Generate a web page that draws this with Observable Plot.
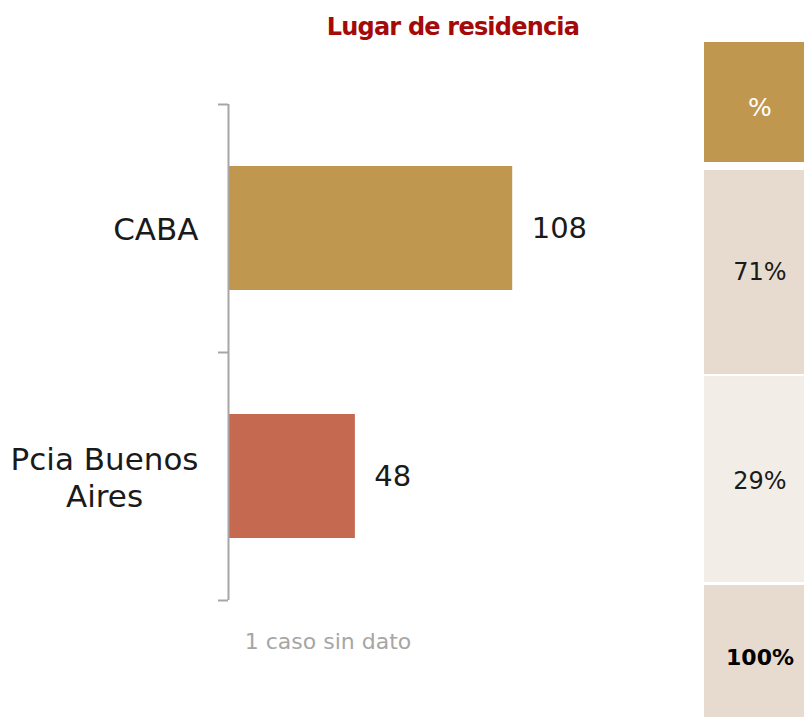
<!DOCTYPE html>
<html>
<head>
<meta charset="utf-8">
<script src="https://cdn.jsdelivr.net/npm/d3@7"></script>
<script src="https://cdn.jsdelivr.net/npm/@observablehq/plot@0.6"></script>
<style>
  html, body { margin: 0; padding: 0; background: #ffffff; }
  #wrap { position: relative; width: 804px; height: 717px; overflow: hidden; font-family: "DejaVu Sans", sans-serif; }
  #chart { position: absolute; left: 0; top: 0; }
  .title { position: absolute; left: 253px; width: 400px; top: 14px; text-align: center;
           font-weight: bold; font-size: 24px; letter-spacing: -0.8px; color: #A50A0A; line-height: 26px; }
  .note { position: absolute; left: 178px; width: 300px; top: 629px; text-align: center;
          font-size: 22px; color: #A6A6A6; line-height: 26px; }
  .cell { position: absolute; left: 704px; width: 100px; display: flex; align-items: center;
          justify-content: center; font-size: 24px; color: #1a1a1a; box-sizing: border-box; padding-left: 12px; }
</style>
</head>
<body>
<div id="wrap">
  <div class="title" id="title"></div>
  <div id="chart"></div>
  <div class="note" id="note"></div>
  <div id="table"></div>
</div>
<script>
// ---- data ----
const titleText = "Lugar de residencia";
const categories = ["CABA", "Pcia Buenos Aires"];
const categoryLabels = ["CABA", "Pcia Buenos\nAires"];
const values = [108, 48];
const barColors = ["#BF974F", "#C56A50"];
const headerLabel = "%";
const percentLabels = ["71%", "29%"];
const totalLabel = "100%";
const noteText = "1 caso sin dato";

document.getElementById("title").textContent = titleText;
document.getElementById("note").textContent = noteText;

const data = categories.map((c, i) => ({category: c, label: categoryLabels[i], value: values[i], i, color: barColors[i]}));

const fontFamily = "DejaVu Sans";
const labelSize = 31;
const valueSize = 29;
const ctx = document.createElement("canvas").getContext("2d");
ctx.font = `${labelSize}px "${fontFamily}"`;
const labelWidth = s => Math.max(...s.split("\n").map(l => ctx.measureText(l).width));

const marks = [
  Plot.rect(data, {x1: 0, x2: "value", y1: d => d.i + 0.25, y2: d => d.i + 0.75, fill: "color"}),
  Plot.ruleX([0], {y1: 0, y2: categories.length, stroke: "#A6A6A6", strokeWidth: 2, dx: -1}),
  Plot.axisY({ticks: d3.range(categories.length + 1), tickSize: 10, tickFormat: () => "", stroke: "#A6A6A6", strokeWidth: 2, dx: -1}),
  Plot.text(data, {x: "value", y: d => d.i + 0.5, text: d => String(d.value), textAnchor: "start", dx: 19, fontSize: valueSize, fill: "#1a1a1a"})
];
data.forEach(d => {
  const w = labelWidth(d.label);
  marks.push(Plot.text([d], {x: 0, y: e => e.i + 0.5, text: "label", textAnchor: "middle",
    dx: -31 - w / 2, fontSize: labelSize, lineHeight: 1.2, fill: "#1a1a1a"}));
});

const chart = Plot.plot({
  width: 804,
  height: 717,
  marginLeft: 229,
  marginRight: 103,
  marginTop: 104,
  marginBottom: 117,
  style: {fontFamily: fontFamily, background: "transparent"},
  x: {domain: [0, 180], axis: null},
  y: {domain: [0, categories.length], reverse: true, axis: null},
  color: {type: "identity"},
  marks
});
document.getElementById("chart").appendChild(chart);

// ---- side table ----
const rows = [
  {text: headerLabel, top: 42, h: 120, bg: "#BF974F", color: "#ffffff", weight: "normal", size: 25, pad: 10},
  {text: percentLabels[0], top: 170, h: 204, bg: "#E7DBCF", color: "#1a1a1a", weight: "normal", size: 24, pad: 0},
  {text: percentLabels[1], top: 376, h: 206, bg: "#F2EDE7", color: "#1a1a1a", weight: "normal", size: 24, pad: 4},
  {text: totalLabel, top: 585, h: 132, bg: "#E7DBCF", color: "#000000", weight: "bold", size: 22, pad: 12}
];
const table = document.getElementById("table");
rows.forEach(r => {
  const el = document.createElement("div");
  el.className = "cell";
  el.style.top = r.top + "px";
  el.style.height = r.h + "px";
  el.style.background = r.bg;
  el.style.color = r.color;
  el.style.fontWeight = r.weight;
  el.style.fontSize = r.size + "px";
  el.style.paddingTop = r.pad + "px";
  el.textContent = r.text;
  table.appendChild(el);
});
</script>
</body>
</html>
